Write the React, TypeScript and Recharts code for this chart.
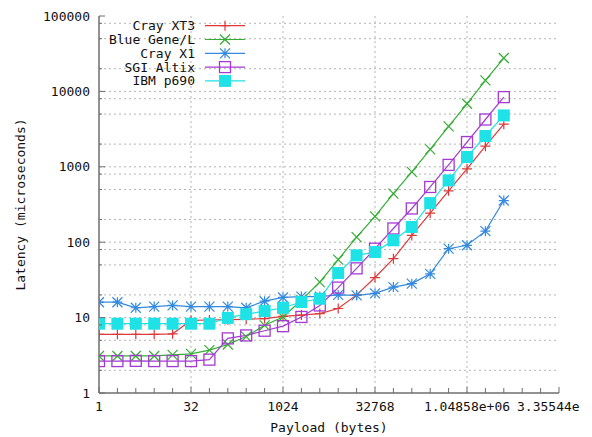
import React from "react";
import { CartesianGrid, Legend, Line, LineChart, XAxis, YAxis } from "recharts";

// payload sizes (bytes), one point per power of two
const payloadBytes = [
  1, 2, 4, 8, 16, 32, 64, 128, 256, 512, 1024, 2048, 4096, 8192, 16384, 32768,
  65536, 131072, 262144, 524288, 1048576, 2097152, 4194304
];

// latency in microseconds
const crayXT3 = [6, 6, 6, 6, 6.1, 9.2, 9.3, 9.4, 9.5, 9.7, 10.4, 10.8, 11.3, 13.2, 20, 34, 60.5, 123, 243, 480, 940, 1880, 3680];
const blueGeneL = [3.1, 3.1, 3.1, 3.1, 3.2, 3.3, 3.7, 4.4, 5.6, 7.9, 10.2, 17, 29.6, 58.7, 117, 220, 441, 855, 1700, 3440, 6850, 14000, 27700];
const crayX1 = [16, 16, 13.5, 14, 14.5, 14, 14, 14, 13.5, 16.5, 18.5, 19, 19, 20, 19.7, 21, 25.4, 28.2, 38, 82, 91, 140, 357];
const sgiAltix = [2.65, 2.65, 2.67, 2.65, 2.65, 2.65, 2.77, 5.3, 5.8, 6.7, 7.7, 10.2, 14.5, 25, 45, 82, 152, 280, 540, 1060, 2130, 4240, 8400];
const ibmP690 = [8.3, 8.3, 8.3, 8.3, 8.3, 8.3, 8.3, 9.9, 11.1, 12.2, 13.5, 16.1, 17.8, 39, 67, 74, 106, 159, 330, 660, 1350, 2560, 4800];

// axis ticks
const xTicks = [
  1, 2, 4, 8, 16, 32, 64, 128, 256, 512, 1024, 2048, 4096, 8192, 16384, 32768,
  65536, 131072, 262144, 524288, 1048576, 2097152, 4194304, 8388608, 16777216, 33554432
];
const xLabelValues = [1, 32, 1024, 32768, 1048576, 33554432];
const xLabelText = ["1", "32", "1024", "32768", "1.04858e+06", "3.35544e"];
const yDecades = [1, 10, 100, 1000, 10000, 100000];
const yDecadeText = ["1", "10", "100", "1000", "10000", "100000"];
const yTicks = [1, 2, 5, 8, 10, 20, 50, 80, 100, 200, 500, 800, 1000, 2000, 5000, 8000, 10000, 20000, 50000, 80000, 100000];
const xGridValues = [32, 1024, 32768, 1048576];
const yGridValues = [2, 5, 8, 10, 20, 50, 80, 100, 200, 500, 800, 1000, 2000, 5000, 8000, 10000, 20000, 50000, 80000];

type MarkerKind = "plus" | "cross" | "star" | "box" | "filledBox";

const series: { key: string; name: string; values: number[]; color: string; marker: MarkerKind }[] = [
  { key: "xt3", name: "Cray XT3", values: crayXT3, color: "#dc3a3a", marker: "plus" },
  { key: "bgl", name: "Blue Gene/L", values: blueGeneL, color: "#34ad34", marker: "cross" },
  { key: "x1", name: "Cray X1", values: crayX1, color: "#348ade", marker: "star" },
  { key: "sgi", name: "SGI Altix", values: sgiAltix, color: "#a53ad2", marker: "box" },
  { key: "ibm", name: "IBM p690", values: ibmP690, color: "#1ee2e6", marker: "filledBox" }
];

const rows = payloadBytes.map((bytes, i) => {
  const row: Record<string, number> = { bytes };
  series.forEach((s) => {
    row[s.key] = s.values[i];
  });
  return row;
});

const FONT = "'DejaVu Sans Mono', monospace";
const FRAME = "#6e6e6e";

function Marker({ kind, cx, cy, color }: { kind: MarkerKind; cx: number; cy: number; color: string }) {
  const s = 5;
  if (kind === "plus") {
    return <path d={`M${cx - s},${cy}H${cx + s}M${cx},${cy - s}V${cy + s}`} stroke={color} strokeWidth={1.2} fill="none" />;
  }
  if (kind === "cross") {
    return (
      <path
        d={`M${cx - s},${cy - s}L${cx + s},${cy + s}M${cx - s},${cy + s}L${cx + s},${cy - s}`}
        stroke={color}
        strokeWidth={1.2}
        fill="none"
      />
    );
  }
  if (kind === "star") {
    return (
      <path
        d={`M${cx - s},${cy}H${cx + s}M${cx},${cy - s}V${cy + s}M${cx - s},${cy - s}L${cx + s},${cy + s}M${cx - s},${cy + s}L${cx + s},${cy - s}`}
        stroke={color}
        strokeWidth={1.2}
        fill="none"
      />
    );
  }
  if (kind === "box") {
    return <rect x={cx - 5.5} y={cy - 5.5} width={11} height={11} stroke={color} strokeWidth={1.3} fill="none" />;
  }
  return <rect x={cx - 6} y={cy - 6} width={12} height={12} fill={color} />;
}

const BottomTick = (props: any) => {
  const { x, y, payload } = props;
  const idx = xLabelValues.indexOf(payload.value);
  const major = idx >= 0;
  const last = idx === xLabelValues.length - 1;
  return (
    <g>
      <line x1={x} y1={y} x2={x} y2={y - (major ? 6 : 5)} stroke={FRAME} />
      {major && (
        <text
          x={last ? x - 42 : x}
          y={y + 18}
          textAnchor={last ? "start" : "middle"}
          fontSize={13}
          fontFamily={FONT}
          fill="#111"
        >
          {xLabelText[idx]}
        </text>
      )}
    </g>
  );
};

const TopTick = (props: any) => {
  const { x, y, payload } = props;
  const major = xLabelValues.includes(payload.value);
  return <line x1={x} y1={y} x2={x} y2={y + (major ? 6 : 5)} stroke={FRAME} />;
};

const LeftTick = (props: any) => {
  const { x, y, payload } = props;
  const idx = yDecades.indexOf(payload.value);
  const major = idx >= 0;
  return (
    <g>
      <line x1={x} y1={y} x2={x + (major ? 6 : 3)} y2={y} stroke={FRAME} />
      {major && (
        <text x={x - 9} y={y + 4.5} textAnchor="end" fontSize={13} fontFamily={FONT} fill="#111">
          {yDecadeText[idx]}
        </text>
      )}
    </g>
  );
};

const RightTick = (props: any) => {
  const { x, y, payload } = props;
  const major = yDecades.includes(payload.value);
  return <line x1={x} y1={y} x2={x - (major ? 6 : 3)} y2={y} stroke={FRAME} />;
};

const LegendBox = () => (
  <svg width={260} height={82} style={{ display: "block" }}>
    {series.map((s, i) => {
      const cy = 9.7 + i * 13.8;
      return (
        <g key={s.key}>
          <text x={195} y={cy + 4.5} textAnchor="end" fontSize={13} fontFamily={FONT} fill="#111">
            {s.name}
          </text>
          <line x1={205} y1={cy} x2={245} y2={cy} stroke={s.color} strokeWidth={1.2} />
          <Marker kind={s.marker} cx={225} cy={cy} color={s.color} />
        </g>
      );
    })}
  </svg>
);

export default function App() {
  return (
    <div style={{ width: 592, height: 437 }}>
      <style>{"body{margin:0}"}</style>
      <LineChart
        width={592}
        height={437}
        data={rows}
        margin={{ top: 16, right: 33, left: 0, bottom: 0 }}
        style={{ fontFamily: FONT, background: "#fff" }}
      >
        <CartesianGrid
          stroke="#b4b4b4"
          strokeDasharray="2 3"
          horizontalValues={yGridValues}
          verticalValues={xGridValues}
        />
        <XAxis
          dataKey="bytes"
          type="number"
          scale="log"
          domain={[1, 33554432]}
          allowDataOverflow
          ticks={xTicks}
          interval={0}
          tickSize={0}
          tickMargin={0}
          tickLine={false}
          axisLine={{ stroke: FRAME, strokeWidth: 1.5 }}
          tick={<BottomTick />}
          height={44}
          label={{
            content: (p: any) => {
              const vb = p.viewBox;
              return (
                <text
                  x={vb.x + vb.width / 2}
                  y={vb.y + 38.5}
                  textAnchor="middle"
                  fontSize={13}
                  fontFamily={FONT}
                  fill="#111"
                >
                  Payload (bytes)
                </text>
              );
            }
          }}
        />
        <XAxis
          xAxisId="top"
          orientation="top"
          dataKey="bytes"
          type="number"
          scale="log"
          domain={[1, 33554432]}
          allowDataOverflow
          ticks={xTicks}
          interval={0}
          tickSize={0}
          tickMargin={0}
          tickLine={false}
          axisLine={{ stroke: FRAME, strokeWidth: 1.5 }}
          tick={<TopTick />}
          height={0}
        />
        <YAxis
          type="number"
          scale="log"
          domain={[1, 100000]}
          allowDataOverflow
          ticks={yTicks}
          interval={0}
          tickSize={0}
          tickMargin={0}
          tickLine={false}
          axisLine={{ stroke: FRAME, strokeWidth: 1.5 }}
          tick={<LeftTick />}
          width={99}
          label={{
            content: (p: any) => {
              const vb = p.viewBox;
              const cx = vb.x + 20;
              const cy = vb.y + vb.height / 2;
              return (
                <text
                  x={cx}
                  y={cy}
                  transform={`rotate(-90 ${cx} ${cy})`}
                  textAnchor="middle"
                  dominantBaseline="central"
                  fontSize={13}
                  fontFamily={FONT}
                  fill="#111"
                >
                  Latency (microseconds)
                </text>
              );
            }
          }}
        />
        <YAxis
          yAxisId="right"
          orientation="right"
          type="number"
          scale="log"
          domain={[1, 100000]}
          allowDataOverflow
          ticks={yTicks}
          interval={0}
          tickSize={0}
          tickMargin={0}
          tickLine={false}
          axisLine={{ stroke: FRAME, strokeWidth: 1.5 }}
          tick={<RightTick />}
          width={0}
        />
        <Legend
          layout="vertical"
          align="center"
          verticalAlign="middle"
          wrapperStyle={{ left: 0, top: 16, width: 260, height: 82 }}
          content={() => <LegendBox />}
        />
        {series.map((s) => (
          <Line
            key={s.key}
            dataKey={s.key}
            name={s.name}
            stroke={s.color}
            strokeWidth={1.2}
            isAnimationActive={false}
            dot={(p: any) => <Marker key={`${s.key}-${p.index}`} kind={s.marker} cx={p.cx} cy={p.cy} color={s.color} />}
            activeDot={false}
          />
        ))}
      </LineChart>
    </div>
  );
}
